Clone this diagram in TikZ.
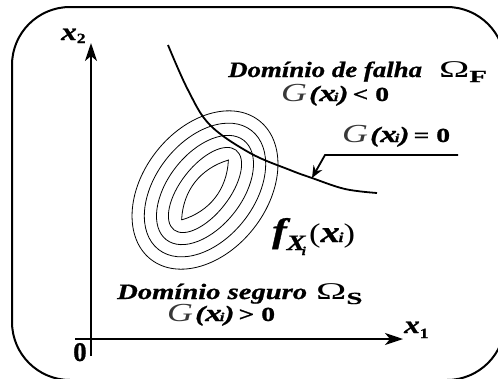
\documentclass[tikz,border=0pt]{standalone}
\usepackage{fontspec}
\setmainfont{Liberation Serif}[BoldItalicFeatures={FakeBold=0.8},BoldFeatures={FakeBold=0.8}]
\usetikzlibrary{arrows.meta}
\newcommand{\bi}{\bfseries\itshape}
\newcommand{\fsz}[1]{\fontsize{#1}{#1}\selectfont}
\newcommand{\hs}[2]{\scalebox{#1}[1]{#2}}
\newcommand{\Gx}{{\mdseries\itshape\color{black!78}\fsz{26}G}\hspace{1.5pt}{\fsz{22}\bfseries(}{\fsz{24}\bi x}\hspace{-1.5pt}{\fsz{12}\bi i}{\fsz{22}\bfseries)}}
\newcommand{\Om}[1]{\hs{1.7}{{\mdseries\upshape\fsz{24}Ω}\raisebox{-5pt}{\upshape\fsz{17}#1}}}
\begin{document}
\begin{tikzpicture}[x=1pt,y=-1pt,
  lbl/.style={inner sep=0pt,anchor=base west,font=\bi\fsz{22}},
  axis/.style={line width=2pt,-{Stealth[length=18pt,width=12pt,inset=5pt]}},
  ring/.style={line width=0.8pt}]
\useasboundingbox (0,0) rectangle (498,378);
\clip (0,0) rectangle (498,378);
% frame
\draw[line width=2pt,rounded corners=58pt] (12,7) rectangle (505,380);
% axes
\coordinate (ybot) at (91,356);
\coordinate (ytop) at (91,43);
\coordinate (xleft) at (75,339);
\coordinate (xright) at (403,339);
\draw[axis] (ybot) -- (ytop);
\draw[axis] (xleft) -- (xright);
% contour rings
\begin{scope}[shift={(205,190)},rotate=52]
  \foreach \a/\b in {50.5/24.5,63/37,75.5/49.5,88/62}
    \draw[ring] (0,0) ellipse [x radius=\a, y radius=\b];
  \draw[ring] (-38,0) .. controls (-14,17) and (14,17) .. (38,0)
                      .. controls (14,-17) and (-14,-17) .. (-38,0);
\end{scope}
% limit state curve
\draw[line width=1.8pt] plot[smooth,tension=0.6] coordinates
  {(168,45) (188,90) (210,125) (250,153) (290,170) (312,178) (345,189) (377,193)};
% leader
\coordinate (L0) at (458,155);
\coordinate (L1) at (325,155);
\coordinate (L2) at (312,178);
\draw[line width=1.8pt,-{Stealth[length=12pt,width=10pt,inset=4pt]}] (L0) -- (L1) -- (L2);
% labels
\node[lbl] (falha) at (228,77) {\hs{1.22}{Domínio de falha}\hspace{17pt}\Om{F}};
\node[lbl] (gneg) at (281,101) {\hs{1.38}{\Gx\hspace{3pt}{\upshape\fsz{20}< 0}}};
\node[lbl] (gzero) at (342,142) {\hs{1.38}{\Gx\hspace{3pt}{\upshape\fsz{20}= 0}}};
\node[lbl] (fx) at (272,242) {\hs{1.28}{{\fsz{34}f}\raisebox{-8pt}{\fsz{22}X}\hspace{-3pt}\raisebox{-13pt}{\fsz{12}i}\hspace{2.5pt}{\mdseries\upshape\fsz{27}(}{\fsz{30}x}\hspace{-1pt}{\fsz{14}i}{\mdseries\upshape\fsz{27})}}};
\node[lbl] (seguro) at (117,299) {\hs{1.3}{Domínio seguro}\hspace{9pt}\Om{S}};
\node[lbl] (gpos) at (167,321) {\hs{1.38}{\Gx\hspace{3pt}{\upshape\fsz{20}> 0}}};
\node[lbl,font=\bi\fsz{25}] (x2) at (61,40) {\hs{1.25}{x\raisebox{-3pt}{\upshape\fsz{14}2}}};
\node[lbl,font=\bi\fsz{25}] (x1) at (404,333) {\hs{1.25}{x\raisebox{-5pt}{\upshape\fsz{14}1}}};
\node[lbl,font=\bfseries\fsz{27}] (zero) at (73,361) {0};
\end{tikzpicture}
\end{document}
